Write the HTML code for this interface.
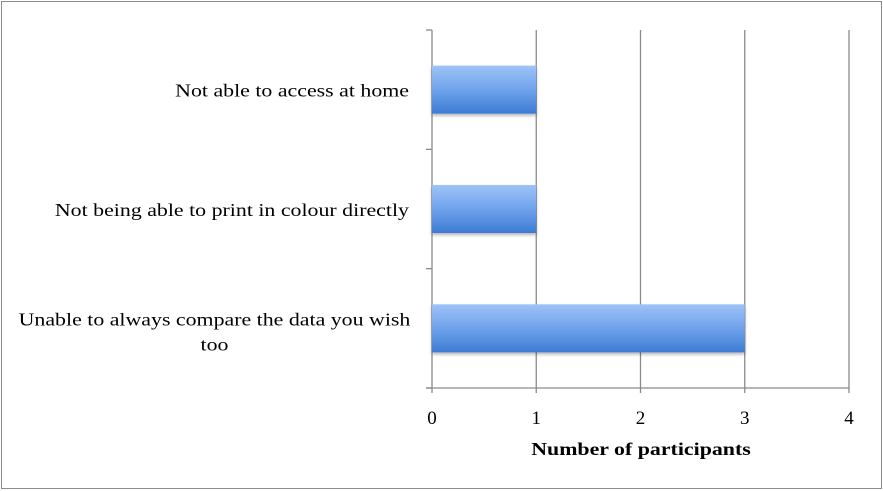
<!DOCTYPE html>
<html><head><meta charset="utf-8"><style>
body{margin:0;background:#fff;}
svg{display:block;font-family:"Liberation Serif",serif;}
</style></head><body>
<svg id="c" width="883" height="491">
<defs><linearGradient id="g" x1="0" y1="0" x2="0" y2="1">
<stop offset="0" stop-color="#9dc3f7"/><stop offset="0.5" stop-color="#6fa2ec"/><stop offset="1" stop-color="#3d7bd3"/></linearGradient>
<filter id="sh"><feDropShadow dx="0" dy="2" stdDeviation="1.5" flood-opacity="0.3"/></filter></defs>
<rect x="1.5" y="1.5" width="880" height="487" fill="#fff" stroke="#8c8c8c"/>
</svg>
<script>
const categories=["Not able to access at home","Not being able to print in colour directly","Unable to always compare the data you wish too"];
const values=[1,1,3];
const ticks=[0,1,2,3,4];
const svg=document.getElementById('c');const NS='http://www.w3.org/2000/svg';
const x0=432,x1=849,y0=30,y1=388;
const xs=v=>x0+(v-ticks[0])/(ticks[ticks.length-1]-ticks[0])*(x1-x0);
const band=(y1-y0)/categories.length;
const W=1.215;
function mk(t,a,p){const e=document.createElementNS(NS,t);for(const k in a)e.setAttribute(k,a[k]);(p||svg).appendChild(e);return e;}
function fit(e){const w=e.getComputedTextLength();e.setAttribute('textLength',w*W);e.setAttribute('lengthAdjust','spacingAndGlyphs');}
ticks.forEach(t=>{
 const l=mk('line',{x1:xs(t),x2:xs(t),y1:y0,y2:y1+5,stroke:'#8a8a8a','stroke-width':1.3});
 
 
 const tx=mk('text',{x:xs(t),y:424,'text-anchor':'middle','font-size':19,fill:'#000'});tx.textContent=t;
 
 
});
const ax=mk('line',{x1:426,x2:x1,y1:y1,y2:y1,stroke:'#8a8a8a','stroke-width':1.3});


for(let i=0;i<=categories.length;i++){const tl=mk('line',{x1:426,x2:432,y1:y0+i*band,y2:y0+i*band,stroke:'#8a8a8a','stroke-width':1.3});
 
 }
categories.forEach((c,i)=>{
 const cy=y0+i*band+band/2;const bh=48;
 const r=mk('rect',{x:x0,y:cy-bh/2,width:xs(values[i])-x0,height:bh,fill:'url(#g)',filter:'url(#sh)'});
 
 
 if(c.length>45){
  const a=mk('text',{x:214.5,y:cy-3,'font-size':18,fill:'#000','text-anchor':'middle'});a.textContent="Unable to always compare the data you wish";fit(a);
  
  
  const b=mk('text',{x:214.5,y:cy+22,'font-size':18,fill:'#000','text-anchor':'middle'});b.textContent="too";fit(b);
  
  
 } else {
  const t=mk('text',{x:409,y:cy+7,'font-size':18,fill:'#000','text-anchor':'end'});t.textContent=c;fit(t);
  
  
 }
});
const ti=mk('text',{x:641,y:455,'text-anchor':'middle','font-size':18,'font-weight':'bold',fill:'#000'});ti.textContent="Number of participants";fit(ti);


</script>
</body></html>
